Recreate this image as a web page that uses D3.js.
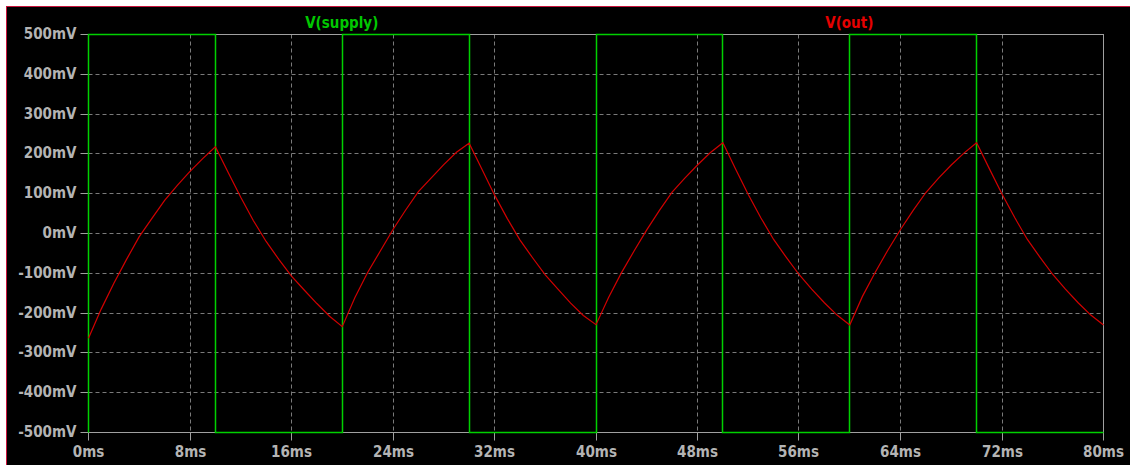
<!DOCTYPE html>
<html>
<head>
<meta charset="utf-8">
<script src="https://cdn.jsdelivr.net/npm/d3@7"></script>
<style>
  html, body { margin: 0; padding: 0; background: #fff; }
  svg { display: block; }
  .lbl { font-family: "DejaVu Sans Condensed", "DejaVu Sans", sans-serif; font-stretch: condensed; font-weight: bold; font-size: 15px; }
</style>
</head>
<body>
<svg id="chart" width="1130" height="465"></svg>
<script>
// Trace names shown above the plot
const traceNames = ["V(supply)", "V(out)"];

// Axis ticks
const timeTicks = [0, 8, 16, 24, 32, 40, 48, 56, 64, 72, 80];          // ms
const voltTicks = [-500, -400, -300, -200, -100, 0, 100, 200, 300, 400, 500]; // mV

// V(supply): square wave, step changes (time in ms, value in mV)
const supplyTime  = [0, 0, 10, 20, 30, 40, 50, 60, 70, 80];
const supplyValue = [-500, 500, -500, 500, -500, 500, -500, 500, -500, -500];

// V(out): sampled every 1 ms from 0 to 80 ms (mV)
const outTime = d3.range(0, 81, 1);
const outValue = [
  -263, -190, -125, -65, -8, 38, 83, 121, 156, 188, 218,
   154, 91, 32, -20, -65, -107, -142, -176, -208, -234,
  -161, -98, -44, 10, 59, 105, 139, 173, 204, 227,
   162, 97, 38, -16, -61, -104, -140, -175, -206, -229,
  -160, -99, -44, 9, 58, 104, 139, 172, 203, 228,
   162, 98, 39, -15, -60, -103, -140, -174, -205, -230,
  -158, -98, -42, 10, 58, 103, 139, 172, 202, 228,
   163, 99, 40, -15, -60, -103, -140, -174, -205, -230
];

const W = 1130, H = 465;
const plot = { left: 88, right: 1103, top: 34, bottom: 432 };

const svg = d3.select("#chart");

// window background and border
svg.append("rect").attr("x", 0).attr("y", 0).attr("width", W).attr("height", H).attr("fill", "#ffffff");
svg.append("rect").attr("x", 7).attr("y", 7).attr("width", W - 7).attr("height", H - 7).attr("fill", "#000000");
svg.append("line").attr("x1", 6.5).attr("x2", 6.5).attr("y1", 6).attr("y2", H).attr("stroke", "#c8143c").attr("stroke-width", 1);
svg.append("line").attr("x1", 6).attr("x2", W).attr("y1", 6.5).attr("y2", 6.5).attr("stroke", "#c8143c").attr("stroke-width", 1);

const x = d3.scaleLinear().domain([0, 80]).range([plot.left, plot.right]);
const y = d3.scaleLinear().domain([-500, 500]).range([plot.bottom, plot.top]);
// snap to pixel centres for 1px hairlines
const px = v => Math.round(v) + 0.5;

const gridColor = "#7a7a7a";
const frameColor = "#a0a0a0";
const textColor = "#b4b4b4";

// dashed grid
const grid = svg.append("g");
grid.selectAll("line.v").data(timeTicks).join("line")
  .attr("x1", d => px(x(d))).attr("x2", d => px(x(d)))
  .attr("y1", px(y(500))).attr("y2", px(y(-500)))
  .attr("stroke", gridColor).attr("stroke-dasharray", "4,3");
grid.selectAll("line.h").data(voltTicks).join("line")
  .attr("x1", px(x(0))).attr("x2", px(x(80)))
  .attr("y1", d => px(y(d))).attr("y2", d => px(y(d)))
  .attr("stroke", gridColor).attr("stroke-dasharray", "4,3");

// axes
const fmtV = d => (d < 0 ? "-" + Math.abs(d) : String(d)) + "mV";
const fmtT = d => d + "ms";

const yAxis = svg.append("g").attr("transform", "translate(" + px(plot.left) + ",0)")
  .call(d3.axisLeft(y).tickValues(voltTicks).tickSize(8).tickPadding(4).tickFormat(fmtV));
const xAxis = svg.append("g").attr("transform", "translate(0," + px(plot.bottom) + ")")
  .call(d3.axisBottom(x).tickValues(timeTicks).tickSize(8).tickPadding(6).tickFormat(fmtT));

[yAxis, xAxis].forEach(g => {
  g.select(".domain").remove();
  g.selectAll(".tick").attr("transform", function(d) {
    return g === yAxis ? "translate(0," + px(y(d)) + ")" : "translate(" + px(x(d)) + ",0)";
  });
  g.selectAll(".tick line").attr("stroke", frameColor);
  g.selectAll(".tick text").attr("class", "lbl").attr("fill", textColor);
});

// plot frame
svg.append("rect")
  .attr("x", px(x(0))).attr("y", px(y(500)))
  .attr("width", px(x(80)) - px(x(0))).attr("height", px(y(-500)) - px(y(500)))
  .attr("fill", "none").attr("stroke", frameColor);

// V(supply)
const supplyLine = d3.line()
  .x((d, i) => px(x(supplyTime[i])))
  .y(d => px(y(d)))
  .curve(d3.curveStepAfter);
svg.append("path").datum(supplyValue)
  .attr("d", supplyLine)
  .attr("fill", "none").attr("stroke", "#00d000").attr("stroke-width", 1.5);

// V(out)
const outLine = d3.line()
  .x((d, i) => x(outTime[i]) + 0.5)
  .y(d => y(d) + 0.5);
svg.append("path").datum(outValue)
  .attr("d", outLine)
  .attr("fill", "none").attr("stroke", "#d20000").attr("stroke-width", 1.2);

// trace names
const plotW = plot.right - plot.left;
svg.append("text").attr("class", "lbl")
  .attr("x", plot.left + plotW * 0.25).attr("y", 28).attr("text-anchor", "middle")
  .attr("fill", "#00c800").text(traceNames[0]);
svg.append("text").attr("class", "lbl")
  .attr("x", plot.left + plotW * 0.75).attr("y", 28).attr("text-anchor", "middle")
  .attr("fill", "#e60000").text(traceNames[1]);
</script>
</body>
</html>
